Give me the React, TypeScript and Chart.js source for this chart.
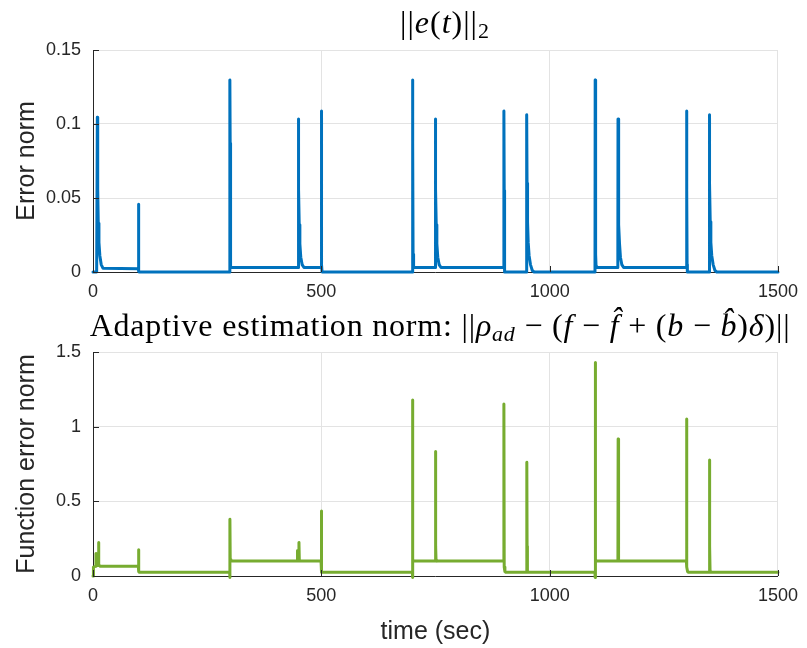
import React, { useEffect, useRef } from "react";
import { Chart, registerables } from "chart.js";

Chart.register(...registerables);

// ---------- data ----------
const errTime = [
  0, 8, 9.5, 10.3, 11.5, 13, 15, 18, 22, 99.3, 99.6, 100.3, 100.8,
  299.3, 299.7, 300.4, 300.9, 301.6, 302.5,
  449.3, 449.7, 450.5, 451.6, 453, 455, 458, 462,
  499.4, 499.8, 500.5, 501, 501.6,
  699.3, 699.7, 700.4, 700.9, 701.6, 702.5,
  749.3, 749.7, 750.5, 751.6, 753, 755, 758, 762,
  899.4, 899.8, 900.5, 901, 901.6,
  949.3, 949.7, 950.5, 951.6, 953, 955, 958, 962, 966,
  1099.3, 1099.7, 1100.4, 1100.9, 1101.6, 1102.5,
  1149.3, 1149.7, 1150.5, 1151.6, 1153, 1155, 1158, 1162,
  1299.4, 1299.8, 1300.5, 1301, 1301.6,
  1349.3, 1349.7, 1350.5, 1351.6, 1353, 1355, 1358, 1362, 1366,
  1500,
];
const errValue = [
  0, 0, 0.1045, 0.056, 0.033, 0.02, 0.011, 0.005, 0.0025, 0.0022, 0.0457, 0.0005, 0,
  0, 0.1297, 0.087, 0.012, 0.004, 0.003,
  0.003, 0.1034, 0.056, 0.032, 0.019, 0.01, 0.005, 0.003,
  0.003, 0.1088, 0.055, 0.005, 0,
  0, 0.1297, 0.087, 0.012, 0.004, 0.003,
  0.003, 0.1034, 0.056, 0.032, 0.019, 0.01, 0.005, 0.003,
  0.003, 0.1088, 0.055, 0.005, 0,
  0, 0.1063, 0.06, 0.034, 0.02, 0.011, 0.005, 0.001, 0,
  0, 0.1297, 0.087, 0.012, 0.004, 0.003,
  0.003, 0.1034, 0.056, 0.032, 0.019, 0.01, 0.005, 0.003,
  0.003, 0.1088, 0.055, 0.005, 0,
  0, 0.1063, 0.06, 0.034, 0.02, 0.011, 0.005, 0.001, 0,
  0,
];

const fnTime = [
  0, 1, 5, 6.5, 7.5, 11, 12, 13, 16, 99.3, 99.7, 100.4, 101,
  299.3, 299.6, 300, 300.5, 302,
  447, 447.5, 448.2, 450.5, 451, 451.8, 454,
  499.4, 499.8, 500.4, 501,
  699.3, 699.6, 700, 700.5, 702,
  749.5, 750, 750.6, 751.2, 753,
  899.4, 899.8, 900.5, 902, 904,
  949.5, 950, 950.6, 951.3, 953,
  1099.3, 1099.6, 1100, 1100.5, 1102,
  1149.5, 1150, 1150.6, 1151.2, 1153,
  1299.4, 1299.8, 1300.5, 1302, 1304,
  1349.5, 1350, 1350.6, 1351.3, 1353,
  1500,
];
const fnValue = [
  0, 0.06, 0.065, 0.15, 0.07, 0.07, 0.225, 0.075, 0.065, 0.065, 0.175, 0.03, 0.025,
  0.025, -0.01, 0.38, 0.11, 0.1,
  0.1, 0.17, 0.105, 0.1, 0.225, 0.105, 0.1,
  0.1, 0.435, 0.03, 0.025,
  0.025, -0.01, 1.178, 0.11, 0.1,
  0.1, 0.833, 0.2, 0.105, 0.1,
  0.1, 1.152, 0.06, 0.03, 0.025,
  0.025, 0.762, 0.2, 0.03, 0.025,
  0.025, -0.01, 1.429, 0.11, 0.1,
  0.1, 0.918, 0.2, 0.105, 0.1,
  0.1, 1.051, 0.06, 0.03, 0.025,
  0.025, 0.777, 0.2, 0.03, 0.025,
  0.025,
];

const timeTicks = [0, 500, 1000, 1500];
const errTicks = [0, 0.05, 0.1, 0.15];
const errTickLabels = ["0", "0.05", "0.1", "0.15"];
const fnTicks = [0, 0.5, 1, 1.5];
const fnTickLabels = ["0", "0.5", "1", "1.5"];

type Seg = { t: string; it?: boolean; sub?: boolean };
const topTitle: Seg[] = [
  { t: "||" }, { t: "e", it: true }, { t: "(" }, { t: "t", it: true }, { t: ")||" }, { t: "2", sub: true },
];
const bottomTitle: Seg[] = [
  { t: "Adaptive estimation norm: " },
  { t: "||" }, { t: "ρ", it: true }, { t: "ad", it: true, sub: true },
  { t: " − (" }, { t: "f", it: true }, { t: " − " }, { t: "f\u0302", it: true },
  { t: " + (" }, { t: "b", it: true }, { t: " − " }, { t: "b\u0302", it: true },
  { t: ")" }, { t: "δ", it: true }, { t: ")||" },
];

// ---------- styles ----------
const AXIS = "#262626";
const GRID = "#e3e3e3";
const SANS = "'Liberation Sans', Arial, Helvetica, sans-serif";
const SERIF = "'Liberation Serif', 'Times New Roman', serif";

function titlePlugin(segs: Seg[], size: number, spacing: number, baseline: number, cx: number) {
  return {
    id: "mathTitle",
    afterDraw(chart: any) {
      const ctx = chart.ctx as CanvasRenderingContext2D;
      ctx.save();
      ctx.fillStyle = "#000";
      ctx.textBaseline = "alphabetic";
      (ctx as any).letterSpacing = spacing + "px";
      const fontOf = (s: Seg) =>
        `${s.it ? "italic " : ""}${s.sub ? Math.round(size * 0.68) : size}px ${SERIF}`;
      let total = 0;
      const widths = segs.map((s) => {
        ctx.font = fontOf(s);
        const w = ctx.measureText(s.t).width;
        total += w;
        return w;
      });
      let x = cx - total / 2;
      segs.forEach((s, i) => {
        ctx.font = fontOf(s);
        ctx.fillText(s.t, x, baseline + (s.sub ? size * 0.17 : 0));
        x += widths[i];
      });
      ctx.restore();
    },
  };
}

const inwardTicks = {
  id: "inwardTicks",
  afterDatasetsDraw(chart: any) {
    const ctx = chart.ctx as CanvasRenderingContext2D;
    const { left, bottom } = chart.chartArea;
    const xs = chart.scales.x;
    const ys = chart.scales.y;
    ctx.save();
    ctx.strokeStyle = AXIS;
    ctx.lineWidth = 1;
    ctx.beginPath();
    xs.ticks.forEach((t: any) => {
      const px = Math.round(xs.getPixelForValue(t.value)) + 0.5;
      ctx.moveTo(px, bottom);
      ctx.lineTo(px, bottom - 6);
    });
    ys.ticks.forEach((t: any) => {
      const py = Math.round(ys.getPixelForValue(t.value)) + 0.5;
      ctx.moveTo(left, py);
      ctx.lineTo(left + 6, py);
    });
    ctx.stroke();
    ctx.restore();
  },
};

function makeConfig(opts: {
  time: number[];
  values: number[];
  color: string;
  yMax: number;
  yTicks: number[];
  yLabels: string[];
  yTitle: string;
  xTitle?: string;
  xHeight: number;
  top: number;
  title: Seg[];
  titleSize: number;
  titleSpacing: number;
  titleBaseline: number;
  titleX: number;
}): any {
  const data = opts.time.map((t, i) => ({ x: t, y: opts.values[i] }));
  return {
    type: "line",
    data: {
      datasets: [
        {
          data,
          borderColor: opts.color,
          backgroundColor: opts.color,
          borderWidth: 3,
          pointRadius: 0,
          tension: 0,
          borderJoinStyle: "round",
          borderCapStyle: "round",
          clip: 4,
        },
      ],
    },
    options: {
      animation: false,
      responsive: false,
      devicePixelRatio: 1,
      layout: { padding: { top: opts.top, right: 20, left: 0, bottom: 0 } },
      plugins: { legend: { display: false }, tooltip: { enabled: false }, title: { display: false } },
      scales: {
        x: {
          type: "linear",
          min: 0,
          max: 1500,
          afterBuildTicks: (s: any) => {
            s.ticks = timeTicks.map((v) => ({ value: v }));
          },
          afterFit: (s: any) => {
            s.height = opts.xHeight;
          },
          ticks: {
            padding: 9,
            color: AXIS,
            font: { family: SANS, size: 18 },
            maxRotation: 0,
            callback: (v: any) => String(v),
          },
          grid: { color: GRID, drawTicks: false, lineWidth: 1 },
          border: { color: AXIS, width: 1 },
          title: {
            display: !!opts.xTitle,
            text: opts.xTitle || "",
            color: AXIS,
            font: { family: SANS, size: 25 },
            padding: { top: 0, bottom: 1 },
          },
        },
        y: {
          type: "linear",
          min: 0,
          max: opts.yMax,
          afterBuildTicks: (s: any) => {
            s.ticks = opts.yTicks.map((v) => ({ value: v }));
          },
          afterFit: (s: any) => {
            s.width = 93;
          },
          ticks: {
            padding: 12,
            color: AXIS,
            font: { family: SANS, size: 18 },
            callback: (v: any) => {
              const i = opts.yTicks.findIndex((t) => Math.abs(t - v) < 1e-9);
              return i >= 0 ? opts.yLabels[i] : "";
            },
          },
          grid: { color: GRID, drawTicks: false, lineWidth: 1 },
          border: { color: AXIS, width: 1 },
          title: {
            display: true,
            text: opts.yTitle,
            color: AXIS,
            font: { family: SANS, size: 25 },
            padding: { top: 12, bottom: 0 },
          },
        },
      },
    },
    plugins: [inwardTicks, titlePlugin(opts.title, opts.titleSize, opts.titleSpacing, opts.titleBaseline, opts.titleX)],
  };
}

export default function App() {
  const topRef = useRef<HTMLCanvasElement>(null);
  const botRef = useRef<HTMLCanvasElement>(null);

  useEffect(() => {
    const c1 = new Chart(
      topRef.current!,
      makeConfig({
        time: errTime,
        values: errValue,
        color: "#0072BD",
        yMax: 0.15,
        yTicks: errTicks,
        yLabels: errTickLabels,
        yTitle: "Error norm",
        xHeight: 28,
        top: 50,
        title: topTitle,
        titleSize: 32,
        titleSpacing: 1,
        titleBaseline: 33,
        titleX: 445,
      })
    );
    const c2 = new Chart(
      botRef.current!,
      makeConfig({
        time: fnTime,
        values: fnValue,
        color: "#77AC30",
        yMax: 1.5,
        yTicks: fnTicks,
        yLabels: fnTickLabels,
        yTitle: "Function error norm",
        xTitle: "time (sec)",
        xHeight: 72,
        top: 52,
        title: bottomTitle,
        titleSize: 32,
        titleSpacing: 0.8,
        titleBaseline: 36,
        titleX: 440,
      })
    );
    return () => {
      c1.destroy();
      c2.destroy();
    };
  }, []);

  return (
    <div style={{ position: "absolute", left: 0, top: 0, width: 807, height: 648, background: "#fff" }}>
      <canvas ref={topRef} width={807} height={300} style={{ display: "block", width: 807, height: 300 }} />
      <canvas ref={botRef} width={807} height={348} style={{ display: "block", width: 807, height: 348 }} />
    </div>
  );
}
